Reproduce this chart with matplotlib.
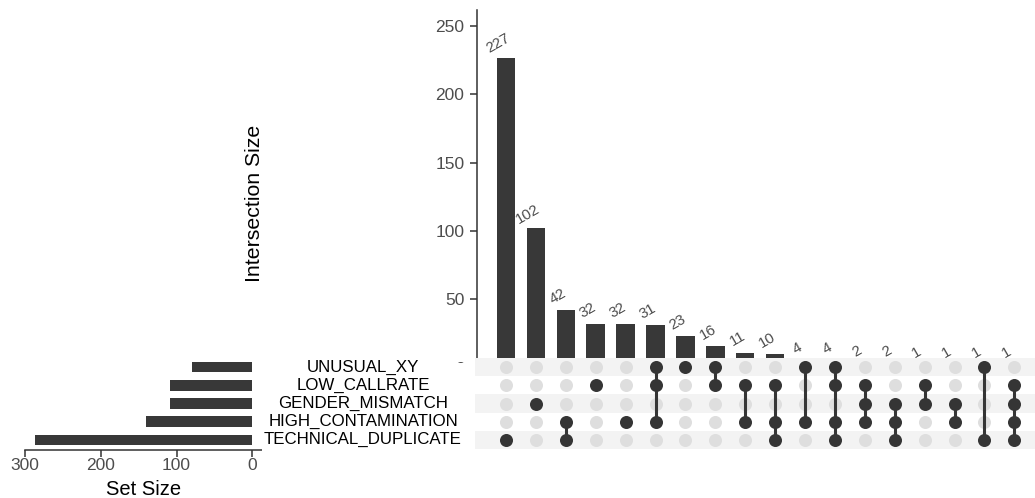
import matplotlib
matplotlib.use("Agg")
import matplotlib.pyplot as plt
import matplotlib.transforms as mtransforms
import numpy as np

plt.rcParams['font.family'] = ['Liberation Sans', 'DejaVu Sans']

# Sets, listed top to bottom in the matrix
set_names = ["UNUSUAL_XY", "LOW_CALLRATE", "GENDER_MISMATCH",
             "HIGH_CONTAMINATION", "TECHNICAL_DUPLICATE"]

# Intersections in descending order of size
intersection_sizes = [227, 102, 42, 32, 32, 31, 23, 16, 11, 10, 4, 4, 2, 2, 1, 1, 1, 1]
intersection_members = [
    ["TECHNICAL_DUPLICATE"],
    ["GENDER_MISMATCH"],
    ["HIGH_CONTAMINATION", "TECHNICAL_DUPLICATE"],
    ["LOW_CALLRATE"],
    ["HIGH_CONTAMINATION"],
    ["UNUSUAL_XY", "LOW_CALLRATE", "HIGH_CONTAMINATION"],
    ["UNUSUAL_XY"],
    ["UNUSUAL_XY", "LOW_CALLRATE"],
    ["LOW_CALLRATE", "HIGH_CONTAMINATION"],
    ["LOW_CALLRATE", "HIGH_CONTAMINATION", "TECHNICAL_DUPLICATE"],
    ["UNUSUAL_XY", "HIGH_CONTAMINATION"],
    ["UNUSUAL_XY", "LOW_CALLRATE", "HIGH_CONTAMINATION", "TECHNICAL_DUPLICATE"],
    ["LOW_CALLRATE", "GENDER_MISMATCH", "HIGH_CONTAMINATION"],
    ["GENDER_MISMATCH", "HIGH_CONTAMINATION", "TECHNICAL_DUPLICATE"],
    ["LOW_CALLRATE", "GENDER_MISMATCH"],
    ["GENDER_MISMATCH", "HIGH_CONTAMINATION"],
    ["UNUSUAL_XY", "TECHNICAL_DUPLICATE"],
    ["LOW_CALLRATE", "GENDER_MISMATCH", "HIGH_CONTAMINATION", "TECHNICAL_DUPLICATE"],
]

# Set sizes are the totals over the intersections each set belongs to
set_sizes = [sum(v for v, m in zip(intersection_sizes, intersection_members) if s in m)
             for s in set_names]

size_ticks = [0, 50, 100, 150, 200, 250]
set_ticks = [0, 100, 200, 300]

W, H = 1035, 498
BAR = "#383838"
DOT_ON = "#353535"
DOT_OFF = "#dedede"
STRIPE = "#f3f3f3"
TICK_TXT = "#4d4d4d"
AXIS = "#333333"

fig = plt.figure(figsize=(W / 100, H / 100), dpi=100)


def box(x0, y0, x1, y1):
    """Pixel box (top-left origin) to figure fraction rect."""
    return [x0 / W, (H - y1) / H, (x1 - x0) / W, (y1 - y0) / H]


col0, col_step = 506.0, 29.9
n = len(intersection_sizes)
xs = np.arange(n)


def px_to_col(px):
    return (px - col0) / col_step


# --- intersection size bars ---
ax_bar = fig.add_axes(box(477, 10, 1035, 367.6), zorder=1)
ax_bar.bar(xs, intersection_sizes, width=0.62, color=BAR)
ax_bar.set_xlim(px_to_col(477), px_to_col(1035))
ax_bar.set_ylim(0, 261.8)
ax_bar.set_yticks(size_ticks)
ax_bar.tick_params(axis='y', length=5, width=1.1, color=AXIS, pad=4.0,
                   labelsize=12.5, labelcolor=TICK_TXT)
ax_bar.set_xticks([])
for sp in ["top", "right", "bottom"]:
    ax_bar.spines[sp].set_visible(False)
ax_bar.spines["left"].set_color(AXIS)
ax_bar.spines["left"].set_linewidth(1.1)
for x, v in zip(xs, intersection_sizes):
    ax_bar.annotate(str(v), (x, v), xytext=(-5.5, 10), textcoords="offset points",
                    rotation=30, rotation_mode="anchor", ha="center", va="center",
                    fontsize=10.8, color=TICK_TXT)

fig.text(254 / W, 1 - 203 / H, "Intersection Size", rotation=90,
         ha="center", va="center", fontsize=15.3, color="black")

# --- membership matrix ---
ax_mat = fig.add_axes(box(475, 358, 1035, 449), zorder=2)
ax_mat.set_xlim(px_to_col(475), px_to_col(1035))
ax_mat.set_ylim(len(set_names) - 0.5, -0.5)
for r in range(len(set_names)):
    if r % 2 == 0:
        ax_mat.axhspan(r - 0.5, r + 0.5, color=STRIPE, lw=0, zorder=0)
for c, members in enumerate(intersection_members):
    rows = [set_names.index(m) for m in members]
    off = [r for r in range(len(set_names)) if r not in rows]
    ax_mat.scatter([c] * len(off), off, s=88, color=DOT_OFF, lw=0, zorder=1)
    if len(rows) > 1:
        ax_mat.plot([c, c], [min(rows), max(rows)], color=DOT_ON, lw=2.2,
                    zorder=2, solid_capstyle="butt")
    ax_mat.scatter([c] * len(rows), rows, s=88, color=DOT_ON, lw=0, zorder=3)
ax_mat.axis("off")
ax_mat.patch.set_visible(True)
ax_mat.patch.set_facecolor("white")

# --- set name labels ---
ax_nm = fig.add_axes(box(262, 363, 475, 452), zorder=2)
ax_nm.set_facecolor("white")
ax_nm.set_xticks([])
ax_nm.set_yticks([])
for sp in ax_nm.spines.values():
    sp.set_visible(False)
trans = mtransforms.blended_transform_factory(fig.transFigure, ax_mat.transData)
for r, name in enumerate(set_names):
    ax_nm.text(363 / W, r, name, transform=trans, ha="center", va="center",
               fontsize=12.2, color="black", clip_on=False)

# --- set size bars ---
ax_set = fig.add_axes(box(25, 358, 262, 450), zorder=1)
ax_set.barh(range(len(set_names)), set_sizes, height=0.58, color=BAR)
ax_set.set_ylim(len(set_names) - 0.45, -0.5)
ax_set.set_xlim(300, -12.8)
ax_set.set_xticks(set_ticks)
ax_set.set_yticks([])
ax_set.tick_params(axis='x', length=4.8, width=1.1, color=AXIS, pad=1,
                   labelsize=12.5, labelcolor=TICK_TXT)
for sp in ["top", "right", "left"]:
    ax_set.spines[sp].set_visible(False)
ax_set.spines["bottom"].set_color(AXIS)
ax_set.spines["bottom"].set_linewidth(1.1)
ax_set.set_xlabel("Set Size", fontsize=14.5, color="black", labelpad=5)

fig.savefig("out.png", dpi=100)
